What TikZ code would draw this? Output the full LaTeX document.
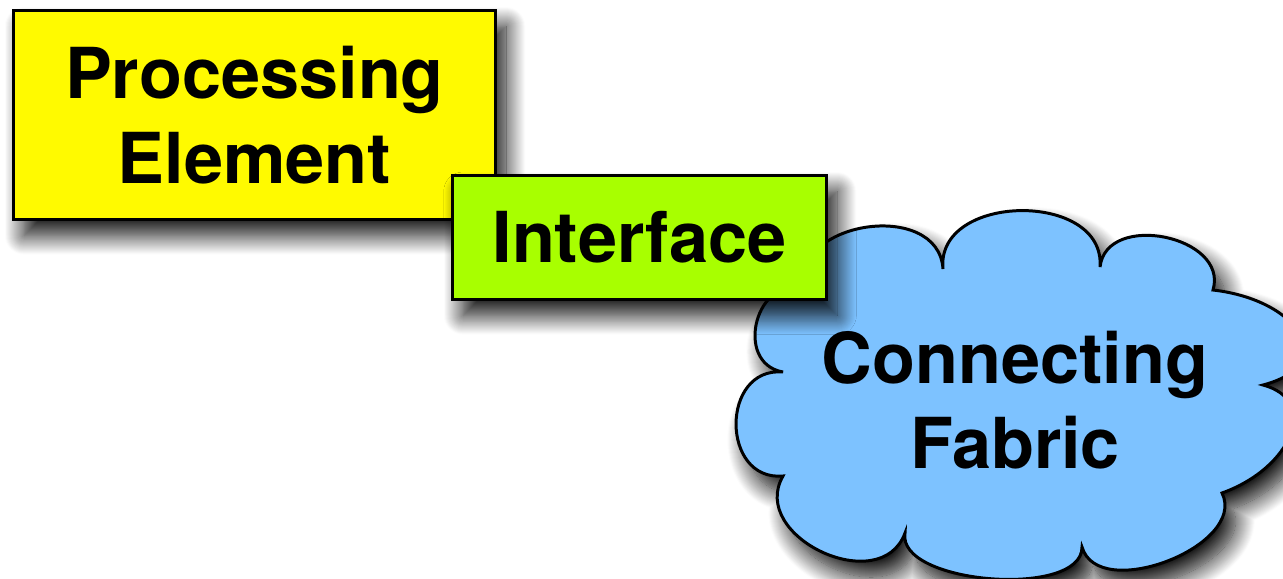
\documentclass[tikz,border=0pt]{standalone}
\usepackage{fontspec}
\newfontfamily\heros{TeX Gyre Heros}
\usetikzlibrary{shadows.blur}
\definecolor{peyellow}{RGB}{255,250,0}
\definecolor{iflime}{RGB}{168,255,0}
\definecolor{fabblue}{RGB}{125,194,255}

\begin{document}
\begin{tikzpicture}[x=0.02cm,y=-0.02cm,
    box/.style={rectangle,draw,line width=1.7pt,align=center,font=\heros\bfseries\fontsize{40}{48}\selectfont},
    label/.style={align=center,font=\heros\bfseries\fontsize{40}{48}\selectfont},
    shade/.style={blur shadow={shadow xshift=6pt,shadow yshift=-9pt,shadow blur radius=11pt,shadow opacity=95,shadow blur steps=20}},
    puff/.style={bend left=95,looseness=#1}]
    \useasboundingbox (0,0) rectangle (1283,578);
    \node(pe)[box,shade,fill=peyellow,minimum width=9.64cm,minimum height=4.18cm] at (254.5,115) {Processing\\Element};
    \coordinate (c1) at (943,269);
    \coordinate (c2) at (1100,267);
    \coordinate (c3) at (1213,290);
    \coordinate (c4) at (1263,385);
    \coordinate (c5) at (1222,493);
    \coordinate (c6) at (1082,547);
    \coordinate (c7) at (905,533);
    \coordinate (c8) at (783,476);
    \coordinate (c9) at (783,372);
    \coordinate (c10) at (805,290);
    \path[draw,fill=fabblue,line width=1.7pt,shade]
        (c10) to[puff=1.3] (c1) to[puff=1.25] (c2) to[puff=1.25] (c3)
        .. controls (1300,300) and (1340,365) .. (c4)
        .. controls (1320,400) and (1292,468) .. (c5)
        to[puff=1.0] (c6) to[puff=0.75] (c7) to[puff=1.33] (c8)
        to[puff=1.55] (c9) to[puff=1.55] (c10) -- cycle;
    \node(fab)[label] at (1015,400) {Connecting\\Fabric};
    \node(if)[box,shade,fill=iflime,minimum width=7.48cm,minimum height=2.48cm] at (639.5,237.5) {Interface};
\end{tikzpicture}
\end{document}
